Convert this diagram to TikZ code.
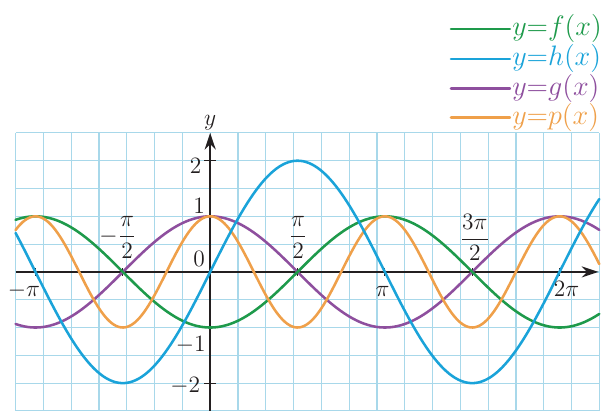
\documentclass[tikz,border=0pt]{standalone}
\usepackage{tikz}
\usepackage{amsmath,amssymb}
\usetikzlibrary{
  arrows.meta,
  positioning,
  calc
}
\definecolor{gridBlue}{HTML}{A8D8EA}
\definecolor{axisDark}{HTML}{231F20}
\definecolor{curveGreen}{HTML}{1E9A4B}
\definecolor{curveBlue}{HTML}{1AA3D9}
\definecolor{curvePurple}{HTML}{8E4F9E}
\definecolor{curveOrange}{HTML}{EFA04A}
\tikzset{
  gridline/.style={
    draw=gridBlue, line width=0.6pt,
  },
  axisline/.style={
    draw=axisDark, line width=0.8pt,
    -{Stealth[length=3mm,width=2mm]},
  },
  tickline/.style={
    draw=axisDark, line width=0.6pt,
  },
  curve/.style={
    line width=1.3pt, line cap=round,
  },
  ticklabel/.style={
    font=\fontsize{13}{15}\selectfont, text=axisDark, inner sep=1pt,
  },
  legendtext/.style={
    font=\fontsize{14}{16}\selectfont, anchor=west, inner sep=1pt,
  },
}

\begin{document}
\begin{tikzpicture}

  \useasboundingbox (-3.78,-2.50) rectangle (7.10,4.89);

  % ─── Grid (half-unit cells) ───────────────────────────────────────────
  \draw[gridline] (-3.5,-2.6) grid[step=0.5] (7,2.5);

  % ─── Axes ────────────────────────────────────────────────────────────
  \coordinate (xstart) at (-3.5,0);
  \coordinate (xend) at (6.98,0);
  \coordinate (ystart) at (0,-2.6);
  \coordinate (yend) at (0,2.5);
  \draw[axisline] (xstart) -- (xend);
  \draw[axisline] (ystart) -- (yend);
  \node[ticklabel, anchor=south] (ylab) at (0,2.5) {$y$};

  % ticks on x at multiples of pi/2
  \foreach \k in {-2,-1,1,2,3,4}
    \draw[tickline] ({\k*pi/2},-0.07) -- ({\k*pi/2},0.07);
  % ticks on y
  \foreach \k in {-2,-1,1,2}
    \draw[tickline] (-0.11,\k) -- (0.11,\k);

  % ─── Curves ──────────────────────────────────────────────────────────
  \draw[curve, curvePurple] plot[domain=-3.5:7, samples=200]
    (\x, {cos(\x r)});
  \draw[curve, curveGreen] plot[domain=-3.5:7, samples=200]
    (\x, {-cos(\x r)});
  \draw[curve, curveOrange] plot[domain=-3.5:7, samples=250]
    (\x, {cos(2*\x r)});
  \draw[curve, curveBlue] plot[domain=-3.5:7, samples=200]
    (\x, {2*sin(\x r)});

  % ─── Tick labels ─────────────────────────────────────────────────────
  \node[ticklabel] (lab2) at (-0.26,1.9) {$2$};
  \node[ticklabel] (lab1) at (-0.2,1.18) {$1$};
  \node[ticklabel] (lab0) at (-0.2,0.24) {$0$};
  \node[ticklabel] (labm1) at (-0.35,-1.32) {$-1$};
  \node[ticklabel] (labm2) at (-0.45,-2.05) {$-2$};

  \node[ticklabel, anchor=base] (labmpi) at (-3.35,-0.45) {$-\pi$};
  \node[ticklabel, anchor=base] (labpi) at (3.1,-0.45) {$\pi$};
  \node[ticklabel, anchor=base] (lab2pi) at (6.41,-0.45) {$2\pi$};

  \node[ticklabel] (labmhalf) at (-1.66,0.62) {$-\dfrac{\pi}{2}$};
  \node[ticklabel] (labhalf) at (1.58,0.62) {$\dfrac{\pi}{2}$};
  \node[ticklabel] (lab3half) at (4.76,0.62) {$\dfrac{3\pi}{2}$};

  % ─── Legend ──────────────────────────────────────────────────────────
  \node[legendtext, text=curveGreen] (legf) at (5.39,4.37) {$y{=}f(x)$};
  \node[legendtext, text=curveBlue] (legh) at (5.39,3.83) {$y{=}h(x)$};
  \node[legendtext, text=curvePurple] (legg) at (5.39,3.30) {$y{=}g(x)$};
  \node[legendtext, text=curveOrange] (legp) at (5.39,2.78) {$y{=}p(x)$};

  \draw[curve, curveGreen] ([xshift=-1.06cm]legf.west) -- (legf.west);
  \draw[curve, curveBlue] ([xshift=-1.06cm]legh.west) -- (legh.west);
  \draw[curve, curvePurple] ([xshift=-1.06cm]legg.west) -- (legg.west);
  \draw[curve, curveOrange] ([xshift=-1.06cm]legp.west) -- (legp.west);

\end{tikzpicture}
\end{document}
